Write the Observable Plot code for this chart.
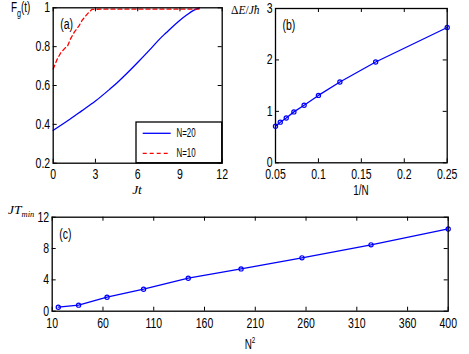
<!DOCTYPE html>
<html><head><meta charset="utf-8">
<script src="https://cdn.jsdelivr.net/npm/d3@7"></script>
<script src="https://cdn.jsdelivr.net/npm/@observablehq/plot@0.6"></script>
<style>
body{margin:0;background:#fff;}
#fig{position:relative;width:469px;height:354px;overflow:hidden;background:#fff;}
#fig svg{position:absolute;left:0;top:0;}
</style></head><body><div id="fig"></div>
<script>
// ---- data: panel (a) fidelity vs Jt ----
const tN20 = [0, 1, 2, 3, 4, 4.54, 5, 5.96, 7, 7.62, 8, 9, 9.5, 10, 10.4];
const fN20 = [0.369, 0.417, 0.468, 0.52, 0.58, 0.614, 0.646, 0.716, 0.795, 0.844, 0.87, 0.936, 0.964, 0.988, 1.0];
const tN10 = [0, 0.28, 0.55, 0.87, 1.0, 1.23, 1.5, 1.82, 2.05, 2.29, 2.55, 2.77, 3.5, 5, 7, 9, 10.4];
const fN10 = [0.685, 0.735, 0.77, 0.795, 0.80, 0.84, 0.875, 0.906, 0.935, 0.957, 0.978, 0.992, 0.993, 0.993, 0.993, 0.993, 0.993];
// ---- data: panels (b), (c) ----
const Nvals = [20, 18, 16, 14, 12, 10, 8, 6, 4];
const gapE = [0.71, 0.79, 0.87, 0.99, 1.12, 1.31, 1.57, 1.96, 2.63];
const Tmin = [10.5, 8.47, 6.81, 5.40, 4.21, 2.81, 1.79, 0.77, 0.51];
// ---- ticks ----
const xTicksA = [0, 3, 6, 9, 12];
const yTicksA = [0.2, 0.4, 0.6, 0.8, 1];
const xTicksB = [0.05, 0.1, 0.15, 0.2, 0.25];
const yTicksB = [0, 1, 2, 3];
const xTicksC = [10, 60, 110, 160, 210, 260, 310, 360, 400];
const yTicksC = [0, 4, 8, 12];
const legendLabels = ["N=20", "N=10"];

const W = 469, H = 354;
const FONT = "Liberation Sans, Arial, sans-serif";
const FS = 14, SQ = 0.75, TSQ = 0.66;
const blue = "#0000ff", red = "#ff0000";

const dataA20 = tN20.map((t, i) => ({t, f: fN20[i]}));
const dataA10 = tN10.map((t, i) => ({t, f: fN10[i]}));
const dataB = Nvals.map((n, i) => ({x: 1 / n, y: gapE[i]}));
const dataC = Nvals.map((n, i) => ({x: n * n, y: Tmin[i]}));
const fmt = d => String(d);

function panel({m, xDomain, yDomain, xTicks, yTicks, xPad, yPad, tag, marks}) {
  const [mt, mr, mb, ml] = m;
  const pw = W - ml - mr, ph = H - mt - mb;
  return Plot.plot({
    width: W, height: H,
    marginTop: mt, marginRight: mr, marginBottom: mb, marginLeft: ml,
    style: {background: "transparent", fontFamily: FONT, fontSize: FS + "px", overflow: "visible", color: "#000"},
    x: {domain: xDomain},
    y: {domain: yDomain},
    marks: [
      ...marks,
      Plot.tickX(xTicks, {x: d => d, insetTop: ph - 4, stroke: "#000", strokeWidth: 1}),
      Plot.tickX(xTicks, {x: d => d, insetBottom: ph - 4, stroke: "#000", strokeWidth: 1}),
      Plot.tickY(yTicks, {y: d => d, insetRight: pw - 4, stroke: "#000", strokeWidth: 1}),
      Plot.tickY(yTicks, {y: d => d, insetLeft: pw - 4, stroke: "#000", strokeWidth: 1}),
      Plot.frame({stroke: "#000", strokeWidth: 1.3}),
      Plot.axisX(xTicks, {tickSize: 0, tickPadding: xPad, label: null, fontSize: FS, tickFormat: fmt}),
      Plot.axisY(yTicks, {tickSize: 0, tickPadding: yPad, label: null, fontSize: FS, tickFormat: fmt}),
      Plot.text([tag], {text: d => d, frameAnchor: "top-left", textAnchor: "start", lineAnchor: "middle", dx: 7, dy: 17, fontSize: FS, fill: "#000"})
    ]
  });
}

const fig = document.getElementById("fig");

const pA = panel({
  m: [7.3, 247.3, 191.3, 52.7], xDomain: [0, 12], yDomain: [0.2, 1],
  xTicks: xTicksA, yTicks: yTicksA, xPad: 6, yPad: 3, tag: "(a)",
  marks: [
    Plot.line(dataA20, {x: "t", y: "f", stroke: blue, strokeWidth: 1.3, curve: "monotone-x"}),
    Plot.line(dataA10, {x: "t", y: "f", stroke: red, strokeWidth: 1.3, strokeDasharray: "4,3"})
  ]
});
const pB = panel({
  m: [8, 22.3, 191.7, 275], xDomain: [0.05, 0.25], yDomain: [0, 3],
  xTicks: xTicksB, yTicks: yTicksB, xPad: 6, yPad: 3, tag: "(b)",
  marks: [
    Plot.line(dataB, {x: "x", y: "y", stroke: blue, strokeWidth: 1.3}),
    Plot.dot(dataB, {x: "x", y: "y", stroke: blue, r: 2.1, strokeWidth: 1.2})
  ]
});
const pC = panel({
  m: [216.7, 21.3, 43.3, 51.7], xDomain: [10, 400], yDomain: [0, 12],
  xTicks: xTicksC, yTicks: yTicksC, xPad: 7, yPad: 3, tag: "(c)",
  marks: [
    Plot.line(dataC, {x: "x", y: "y", stroke: blue, strokeWidth: 1.3}),
    Plot.dot(dataC, {x: "x", y: "y", stroke: blue, r: 2.1, strokeWidth: 1.2})
  ]
});
[pA, pB, pC].forEach(p => fig.appendChild(p));

// condensed look of the original lettering
[pA, pB, pC].forEach(p => {
  p.querySelectorAll("text").forEach(t => {
    const w = t.getComputedTextLength();
    if (w > 0) { t.setAttribute("textLength", w * SQ); t.setAttribute("lengthAdjust", "spacingAndGlyphs"); }
  });
});

// axis titles and legend overlay
const ov = d3.select(fig).append("svg").attr("width", W).attr("height", H);
function sans(x, y, anchor, html, fs = FS) {
  return ov.append("text").attr("transform", `translate(${x},${y}) scale(${TSQ},1)`)
    .attr("text-anchor", anchor).attr("font-family", FONT).attr("font-size", fs).html(html);
}
function serif(x, y, anchor, html, fs = 13) {
  return ov.append("text").attr("x", x).attr("y", y).attr("text-anchor", anchor)
    .attr("font-family", "Liberation Serif, serif").attr("font-size", fs).html(html);
}
sans(11, 12, "start", 'F<tspan dy="5" font-size="11">g</tspan><tspan dy="-5">(t)</tspan>', 15);
serif(137, 194, "middle", '<tspan font-style="italic">Jt</tspan>', 13.5);
serif(231, 14, "start", 'Δ<tspan font-style="italic">E</tspan>/<tspan font-style="italic">Jħ</tspan>', 11.5);
sans(361, 195, "middle", '1/N', 15);
serif(8, 214, "start", '<tspan font-style="italic">JT</tspan><tspan font-style="italic" font-size="8.5" dy="3">min</tspan>', 13.5);
sans(250, 349, "middle", 'N<tspan dy="-6" font-size="9.5">2</tspan>', 15);

// legend box inside panel (a)
const lg = ov.append("g");
lg.append("rect").attr("x", 136).attr("y", 122).attr("width", 85.7).attr("height", 40.7)
  .attr("fill", "#fff").attr("stroke", "#000").attr("stroke-width", 1.3);
const legendStyles = [{stroke: blue, dash: null}, {stroke: red, dash: "4,3"}];
legendLabels.forEach((lab, i) => {
  const y = 133.3 + i * 20;
  const ln = lg.append("line").attr("x1", 142.7).attr("x2", 170.7).attr("y1", y).attr("y2", y)
    .attr("stroke", legendStyles[i].stroke).attr("stroke-width", 1.3);
  if (legendStyles[i].dash) ln.attr("stroke-dasharray", legendStyles[i].dash);
  lg.append("text").attr("transform", `translate(176.5,${y + 4}) scale(${TSQ},1)`)
    .attr("font-family", FONT).attr("font-size", 12).text(lab);
});
</script></body></html>
